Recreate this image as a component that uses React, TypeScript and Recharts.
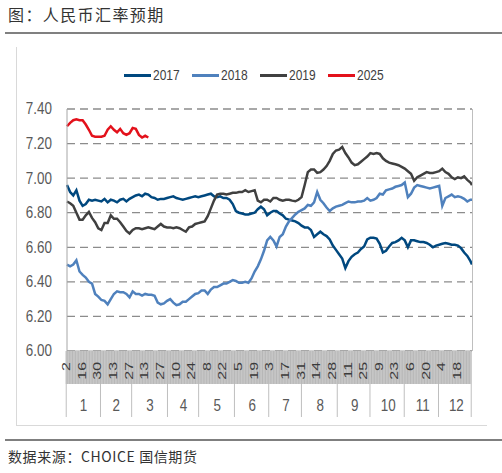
import React from "react";
import { LineChart, Line, XAxis, YAxis, CartesianGrid, Legend } from "recharts";

// calendar year used for the trading-day axis (weekdays only)
const AXIS_YEAR = 2017;
const SERIES_NAMES = ["2017", "2018", "2019", "2025"];
const SERIES_COLORS = ["#00487f", "#4f81bd", "#404040", "#e3111b"];
const Y_TICKS = [6.0, 6.2, 6.4, 6.6, 6.8, 7.0, 7.2, 7.4];
const MONTH_LABELS = ["1", "2", "3", "4", "5", "6", "7", "8", "9", "10", "11", "12"];

// USD/CNY, one value every second trading day (last value = last trading day)
const CNY_2017 = [
  6.96, 6.92, 6.9, 6.93, 6.87, 6.84, 6.85, 6.875, 6.87, 6.875,
  6.87, 6.865, 6.88, 6.86, 6.875, 6.87, 6.86, 6.875, 6.88, 6.865,
  6.88, 6.89, 6.9, 6.905, 6.895, 6.91, 6.905, 6.89, 6.885, 6.875,
  6.88, 6.88, 6.885, 6.89, 6.895, 6.885, 6.88, 6.875, 6.88, 6.885,
  6.89, 6.895, 6.89, 6.895, 6.9, 6.905, 6.91, 6.895, 6.89, 6.895,
  6.885, 6.885, 6.875, 6.85, 6.81, 6.8, 6.795, 6.79, 6.79, 6.795,
  6.8, 6.82, 6.835, 6.82, 6.785, 6.8, 6.81, 6.81, 6.795, 6.785,
  6.765, 6.76, 6.755, 6.75, 6.74, 6.725, 6.715, 6.715, 6.7, 6.66,
  6.675, 6.69, 6.675, 6.665, 6.645, 6.61, 6.585, 6.56, 6.535, 6.48,
  6.52, 6.545, 6.56, 6.57, 6.59, 6.605, 6.645, 6.655, 6.655, 6.65,
  6.62, 6.57, 6.58, 6.605, 6.625, 6.63, 6.64, 6.655, 6.64, 6.6,
  6.64, 6.64, 6.635, 6.63, 6.63, 6.625, 6.615, 6.6, 6.61, 6.615,
  6.62, 6.625, 6.62, 6.615, 6.615, 6.61, 6.595, 6.57, 6.55, 6.52,
  6.5,
];
const CNY_2018 = [
  6.5, 6.49, 6.5, 6.525, 6.46, 6.44, 6.425, 6.4, 6.39, 6.33,
  6.315, 6.295, 6.29, 6.27, 6.3, 6.33, 6.345, 6.34, 6.34, 6.33,
  6.31, 6.345, 6.33, 6.33, 6.32, 6.33, 6.325, 6.325, 6.32, 6.28,
  6.27, 6.275, 6.29, 6.3, 6.28, 6.265, 6.27, 6.285, 6.285, 6.3,
  6.315, 6.33, 6.335, 6.35, 6.35, 6.33, 6.355, 6.37, 6.37, 6.38,
  6.39, 6.39, 6.4, 6.41, 6.405, 6.395, 6.395, 6.4, 6.395, 6.42,
  6.46, 6.49, 6.53, 6.58, 6.64, 6.66, 6.64, 6.605, 6.66, 6.675,
  6.72, 6.75, 6.77, 6.79, 6.805, 6.815, 6.825, 6.845, 6.84, 6.86,
  6.92, 6.875, 6.855, 6.83, 6.81, 6.825, 6.835, 6.84, 6.845, 6.855,
  6.865, 6.86, 6.86, 6.865, 6.865, 6.87, 6.885, 6.87, 6.875, 6.885,
  6.91, 6.905, 6.93, 6.935, 6.94, 6.95, 6.955, 6.96, 6.975, 6.89,
  6.91, 6.945, 6.96, 6.955, 6.95, 6.945, 6.94, 6.945, 6.95, 6.955,
  6.84, 6.885, 6.895, 6.905, 6.89, 6.895, 6.89, 6.88, 6.865, 6.875,
  6.875,
];
const CNY_2019 = [
  6.865, 6.855, 6.84, 6.8, 6.76, 6.76, 6.785, 6.805, 6.77, 6.745,
  6.71, 6.7, 6.74, 6.74, 6.785, 6.765, 6.765, 6.745, 6.72, 6.695,
  6.68, 6.7, 6.71, 6.71, 6.705, 6.71, 6.715, 6.71, 6.705, 6.72,
  6.735, 6.72, 6.715, 6.715, 6.71, 6.715, 6.71, 6.7, 6.69, 6.715,
  6.72, 6.735, 6.74, 6.745, 6.75, 6.78, 6.825, 6.87, 6.905, 6.91,
  6.91, 6.905, 6.91, 6.915, 6.915, 6.92, 6.92, 6.93, 6.92, 6.925,
  6.93, 6.87, 6.86, 6.875, 6.875, 6.865, 6.885, 6.885, 6.875, 6.87,
  6.875, 6.875, 6.87, 6.866, 6.875, 6.89, 6.96, 7.035, 7.05, 7.05,
  7.03, 7.035, 7.05, 7.07, 7.1, 7.14, 7.16, 7.165, 7.18, 7.145,
  7.12, 7.09, 7.075, 7.08, 7.095, 7.11, 7.125, 7.145, 7.14, 7.145,
  7.14, 7.115, 7.1, 7.09, 7.085, 7.08, 7.075, 7.065, 7.055, 7.04,
  7.025, 6.985, 7.005, 7.015, 7.025, 7.035, 7.03, 7.03, 7.035, 7.04,
  7.055, 7.035, 7.025, 7.005, 6.995, 7.005, 7.0, 7.01, 6.99, 6.975,
  6.96,
];
const CNY_2025 = [
  7.3, 7.32, 7.335, 7.34, 7.335, 7.335, 7.31, 7.28, 7.245, 7.24,
  7.24, 7.24, 7.245, 7.28, 7.3, 7.28, 7.265, 7.285, 7.26, 7.25,
  7.26, 7.29, 7.285, 7.25, 7.235, 7.245, 7.235,
];

const CHART_W = 502;
const CHART_H = 473;
const MARGIN = { top: 60, right: 30, bottom: 56, left: 16 };
const LEGEND_H = 49;
const Y_AXIS_W = 51;
const X_AXIS_H = 66;
const DAY_ROW_H = 33;
const PLOT_TOP = MARGIN.top + LEGEND_H;
const PLOT_RIGHT = CHART_W - MARGIN.right;
const PLOT_BOTTOM = CHART_H - MARGIN.bottom - X_AXIS_H;
const PLOT_W = CHART_W - MARGIN.left - MARGIN.right - Y_AXIS_W;

const SANS = "'Liberation Sans', Arial, sans-serif";
const CJK = "'Noto Sans CJK SC', 'Noto Sans', sans-serif";
const TEXT_GREY = "#595959";
const NARROW_X = 0.84; // the original uses a condensed face

// weekdays of the axis year
const DAYS: { month: number; day: number }[] = [];
for (let m = 0; m < 12; m++) {
  const n = new Date(AXIS_YEAR, m + 1, 0).getDate();
  for (let d = 1; d <= n; d++) {
    const wd = new Date(AXIS_YEAR, m, d).getDay();
    if (wd !== 0 && wd !== 6) DAYS.push({ month: m, day: d });
  }
}
const BAND = PLOT_W / DAYS.length;
const monthStart: number[] = [];
const monthCount: number[] = [];
DAYS.forEach((d, i) => {
  if (monthStart[d.month] === undefined) monthStart[d.month] = i;
  monthCount[d.month] = (monthCount[d.month] || 0) + 1;
});

const spread = (vals: number[]) => {
  const out: (number | null)[] = new Array(DAYS.length).fill(null);
  vals.forEach((v, k) => {
    out[Math.min(k * 2, DAYS.length - 1)] = v;
  });
  return out;
};
const s17 = spread(CNY_2017);
const s18 = spread(CNY_2018);
const s19 = spread(CNY_2019);
const s25 = spread(CNY_2025);
const rows = DAYS.map((d, i) => ({
  date: `${d.month + 1}-${d.day}`,
  y2017: s17[i],
  y2018: s18[i],
  y2019: s19[i],
  y2025: s25[i],
}));
const KEYS = ["y2017", "y2018", "y2019", "y2025"];

// first tick draws the striped day band and month separators,
// every tick then draws its own labels on top
function DayTick(props: any) {
  const { x, y, index } = props;
  const d = DAYS[index];
  const mid = (monthCount[d.month] - 1) / 2;
  const midIdx = monthStart[d.month] + Math.floor(mid);
  let band: React.ReactNode = null;
  if (index === 0) {
    const x0 = x - BAND / 2;
    band = (
      <g>
        <rect x={x0} y={y} width={BAND * DAYS.length} height={DAY_ROW_H} fill="#d2d2d2" />
        {DAYS.map((_, i) => (
          <line key={i} x1={x0 + i * BAND} x2={x0 + i * BAND} y1={y} y2={y + DAY_ROW_H} stroke="#b0b0b0" strokeWidth={0.8} />
        ))}
        {DAYS.map((dd, i) =>
          monthStart[dd.month] === i ? (
            <line key={`m${i}`} x1={x0 + i * BAND} x2={x0 + i * BAND} y1={i === 0 ? y : y + DAY_ROW_H} y2={y + X_AXIS_H} stroke="#bfbfbf" />
          ) : null
        )}
        <line x1={x0 + BAND * DAYS.length} x2={x0 + BAND * DAYS.length} y1={y} y2={y + X_AXIS_H} stroke="#bfbfbf" />
      </g>
    );
  }
  return (
    <g>
      {band}
      {index % 10 === 0 && (
        <text
          transform={`translate(${x - 0.5},${y + 11}) rotate(-90) scale(1.45,1)`}
          textAnchor="end"
          dominantBaseline="central"
          fontFamily={SANS}
          fontSize={11}
          fill="#3a3a3a"
        >
          {d.day}
        </text>
      )}
      {index === midIdx && (
        <text
          transform={`translate(${x + (mid - Math.floor(mid)) * BAND},${y + 55}) scale(${NARROW_X},1)`}
          textAnchor="middle"
          dominantBaseline="central"
          fontFamily={SANS}
          fontSize={16}
          fill={TEXT_GREY}
        >
          {MONTH_LABELS[d.month]}
        </text>
      )}
    </g>
  );
}

function ValueTick(props: any) {
  const { x, y, payload } = props;
  return (
    <text
      transform={`translate(${x},${y}) scale(${NARROW_X},1)`}
      textAnchor="end"
      dominantBaseline="central"
      fontFamily={SANS}
      fontSize={16}
      fill={TEXT_GREY}
    >
      {Number(payload.value).toFixed(2)}
    </text>
  );
}

function LegendContent() {
  return (
    <div style={{ height: LEGEND_H, display: "flex", justifyContent: "center", paddingLeft: 5 }}>
      {SERIES_NAMES.map((name, i) => (
        <div key={name} style={{ display: "flex", alignItems: "center", height: 30, marginRight: i < SERIES_NAMES.length - 1 ? 13 : 0 }}>
          <span style={{ display: "inline-block", width: 27, height: 3, background: SERIES_COLORS[i], marginRight: 2 }} />
          <span style={{ display: "inline-block", width: 26, overflow: "visible", whiteSpace: "nowrap" }}>
            <span style={{ display: "inline-block", fontFamily: SANS, fontSize: 15, color: "#404040", transform: "scaleX(0.8)", transformOrigin: "left center" }}>
              {name}
            </span>
          </span>
        </div>
      ))}
    </div>
  );
}

export default function App() {
  return (
    <div style={{ position: "absolute", left: 0, top: 0, width: CHART_W, height: CHART_H, background: "#fff", overflow: "hidden" }}>
      <div style={{ position: "absolute", left: 8, top: 3, fontFamily: CJK, fontSize: 16, letterSpacing: 1.4, color: "#333", lineHeight: "22px" }}>
        图：人民币汇率预期
      </div>
      <div style={{ position: "absolute", left: 5, right: 0, top: 32, height: 2, background: "#808080" }} />
      <div style={{ position: "absolute", left: 16, top: 47, width: 1, height: 378, background: "#d9d9d9" }} />
      <div style={{ position: "absolute", left: 16, top: 425, width: 471, height: 1, background: "#d9d9d9" }} />

      <div style={{ position: "absolute", left: 0, top: 0 }}>
        <LineChart width={CHART_W} height={CHART_H} data={rows} margin={MARGIN}>
          <CartesianGrid vertical={false} stroke="#8c8c8c" strokeDasharray="8 5" strokeWidth={1.3} />
          <Legend
            verticalAlign="top"
            align="center"
            content={LegendContent}
            wrapperStyle={{ left: 0, top: MARGIN.top, width: CHART_W }}
          />
          <XAxis
            dataKey="date"
            interval={0}
            height={X_AXIS_H}
            tickLine={false}
            tickSize={0}
            tickMargin={0}
            axisLine={{ stroke: "#a6a6a6" }}
            tick={DayTick}
          />
          <YAxis
            type="number"
            domain={[6, 7.4]}
            ticks={Y_TICKS}
            width={Y_AXIS_W}
            tickLine={false}
            tickSize={0}
            tickMargin={15}
            axisLine={{ stroke: "#a6a6a6" }}
            tick={ValueTick}
          />
          {KEYS.map((k, i) => (
            <Line
              key={k}
              dataKey={k}
              name={SERIES_NAMES[i]}
              type="linear"
              stroke={SERIES_COLORS[i]}
              strokeWidth={2.5}
              dot={false}
              connectNulls
              isAnimationActive={false}
            />
          ))}
        </LineChart>
      </div>

      <div style={{ position: "absolute", left: PLOT_RIGHT, top: PLOT_TOP, width: 1, height: PLOT_BOTTOM - PLOT_TOP, background: "#bfbfbf" }} />
      <div style={{ position: "absolute", left: 5, right: 0, top: 439, height: 2, background: "#7f7f7f" }} />
      <div style={{ position: "absolute", left: 8, top: 446, fontFamily: CJK, fontSize: 14, letterSpacing: 0.6, color: "#333", lineHeight: "20px" }}>
        数据来源：CHOICE 国信期货
      </div>
    </div>
  );
}
